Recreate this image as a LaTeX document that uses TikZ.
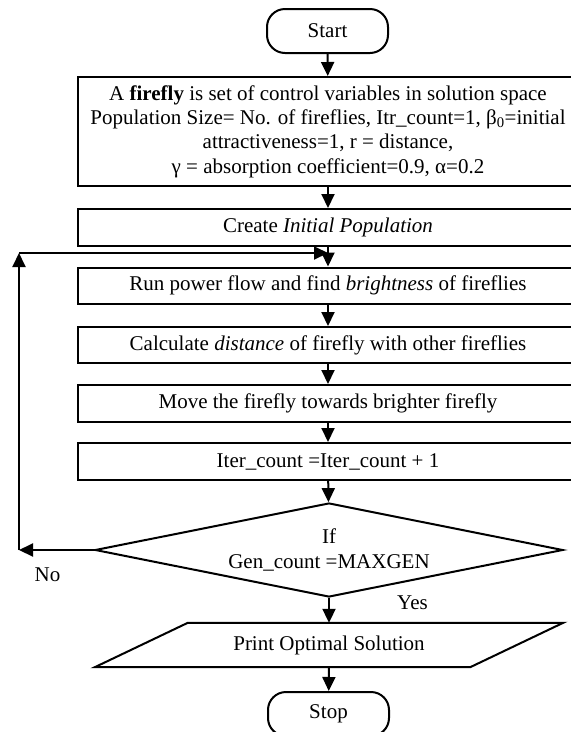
\documentclass[tikz,border=0pt]{standalone}
\usepackage{fontspec}
\setmainfont{Liberation Serif}
\usetikzlibrary{shapes.geometric,arrows.meta}
\begin{document}
\begin{tikzpicture}[x=1pt,y=-1pt,
  font=\fontsize{21}{24.3}\selectfont,
  every node/.style={inner sep=0pt},
  line/.style={line width=2pt},
  box/.style={draw, line width=2pt, rectangle, minimum width=500, align=center},
  term/.style={draw, line width=2pt, rounded corners=18pt, minimum width=121, minimum height=44},
  decision/.style={draw, line width=2pt, diamond, aspect=5, minimum width=468, minimum height=94, align=center},
  arr/.style={line width=2pt, -{Triangle[length=14pt,width=13pt]}}]
\useasboundingbox (0,0) rectangle (571,732);
\clip (0,0) rectangle (571,732);
\node[term] (start) at (327.5,31) {Start};
\node[box, minimum height=109] (init) at (328,131.5) {A \textbf{firefly} is set of control variables in solution space\\
Population Size= No. of fireflies, Itr\_count=1, β\textsubscript{0}=initial\\
attractiveness=1, r = distance,\\
γ = absorption coefficient=0.9, α=0.2};
\node[box, minimum height=37] (create) at (328,227.5) {Create \textit{Initial Population}};
\node[box, minimum height=36] (run) at (328,285.5) {Run power flow and find \textit{brightness} of fireflies};
\node[box, minimum height=36] (dist) at (328,345) {Calculate \textit{distance} of firefly with other fireflies};
\node[box, minimum height=37] (move) at (328,403.5) {Move the firefly towards brighter firefly};
\node[box, minimum height=37] (iter) at (328,461.5) {Iter\_count =Iter\_count + 1};
\node[decision] (dec) at (329,550) {If\\Gen\_count =MAXGEN};
\node[minimum width=375, minimum height=44] (print) at (329,645) {Print Optimal Solution};
\draw[line] ([xshift=-46.5pt]print.south west) -- ([xshift=-46.5pt]print.south east)
  -- ([xshift=46.5pt]print.north east) -- ([xshift=46.5pt]print.north west) -- cycle;
\node[term] (stop) at (328.5,714) {Stop};
\node (no) at (47.5,575) {No};
\node (yes) at (412.5,603) {Yes};
\coordinate (nocorner) at (19,550);
\coordinate (topcorner) at (19,253);
\coordinate (join) at (328,253);
\draw[arr] (start) -- (init);
\draw[arr] (init) -- (create);
\draw[arr] (create) -- (run);
\draw[arr] (run) -- (dist);
\draw[arr] (dist) -- (move);
\draw[arr] (move) -- (iter);
\draw[arr] (iter) -- (dec);
\draw[arr] (dec.south) -- (print.north);
\draw[arr] (print.south) -- (stop);
\draw[arr] (dec.west) -- (nocorner);
\draw[arr] (nocorner) -- (topcorner);
\draw[arr] (topcorner) -- (join);
\end{tikzpicture}
\end{document}
